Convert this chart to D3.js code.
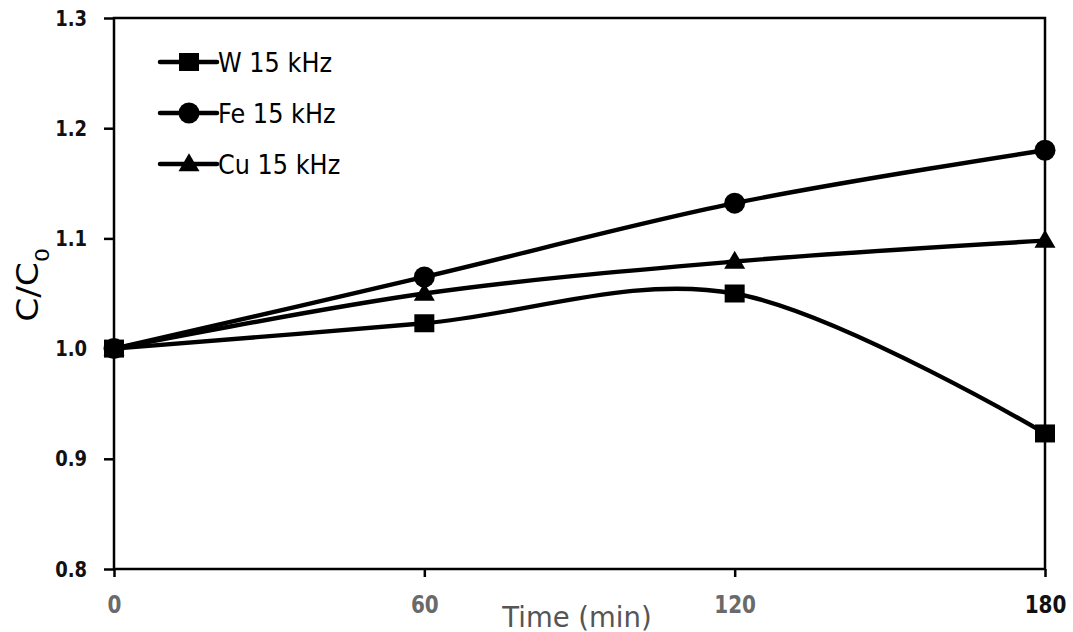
<!DOCTYPE html>
<html>
<head>
<meta charset="utf-8">
<script src="https://cdn.jsdelivr.net/npm/d3@7"></script>
<style>
  html, body { margin: 0; padding: 0; background: #fff; }
  svg { display: block; }
</style>
</head>
<body>
<svg id="chart" width="1073" height="632"></svg>
<script>
// Sampling times (min) and normalised concentration C/C0 for each metal
const times = [0, 60, 120, 180];
const wValues = [1.000, 1.023, 1.050, 0.923];
const feValues = [1.000, 1.065, 1.132, 1.180];
const cuValues = [1.000, 1.050, 1.079, 1.098];
const seriesNames = ["W 15 kHz", "Fe 15 kHz", "Cu 15 kHz"];
const yTicks = [0.8, 0.9, 1.0, 1.1, 1.2, 1.3];
const xTicks = [0, 60, 120, 180];

const series = [
  { name: seriesNames[0], values: wValues, marker: "square" },
  { name: seriesNames[1], values: feValues, marker: "circle" },
  { name: seriesNames[2], values: cuValues, marker: "triangle" }
];

const svg = d3.select("#chart");
const margin = { left: 114, top: 18, right: 28, bottom: 63 };
const W = 1073, H = 632;
const iw = W - margin.left - margin.right;
const ih = H - margin.top - margin.bottom;

const x = d3.scaleLinear().domain([0, 180]).range([0, iw]);
const y = d3.scaleLinear().domain([0.8, 1.3]).range([ih, 0]);

const g = svg.append("g").attr("transform", `translate(${margin.left},${margin.top})`);

const font = "'DejaVu Sans', Verdana, sans-serif";

// Axes (tall, narrow lettering via a vertical stretch)
const yStretch = 1.22, xStretch = 1.25;
const yAxis = g.append("g")
  .call(d3.axisLeft(y).tickValues(yTicks).tickFormat(d3.format(".1f")).tickSize(10).tickPadding(17));
const xAxis = g.append("g")
  .attr("transform", `translate(0,${ih})`)
  .call(d3.axisBottom(x).tickValues(xTicks).tickFormat(d3.format("d")).tickSize(8));

[yAxis, xAxis].forEach(a => {
  a.select(".domain").remove();
  a.selectAll(".tick line").attr("stroke", "#000").attr("stroke-width", 2.5);
  a.selectAll(".tick text")
    .attr("fill", "#111")
    .style("font-family", font)
    .style("font-weight", "bold");
});
yAxis.selectAll(".tick text")
  .style("font-size", "18px")
  .attr("transform", `scale(1,${yStretch})`);
xAxis.selectAll(".tick text")
  .style("font-size", "20px")
  .attr("dy", null)
  .attr("y", 44 / xStretch)
  .attr("transform", `scale(1,${xStretch})`)
  .attr("fill", d => d === 180 ? "#111" : "#6a6a6a");

// Plot frame
g.append("rect")
  .attr("x", 0).attr("y", 0).attr("width", iw).attr("height", ih)
  .attr("fill", "none").attr("stroke", "#000").attr("stroke-width", 2.5);

// Smoothed series lines
const line = d3.line()
  .x((d, i) => x(times[i]))
  .y(d => y(d))
  .curve(d3.curveCardinal.tension(0));

const markerSize = 20;
function drawMarker(sel, type, cx, cy) {
  if (type === "square") {
    sel.append("rect")
      .attr("x", cx - markerSize / 2).attr("y", cy - markerSize / 2 + 1)
      .attr("width", markerSize).attr("height", markerSize - 2)
      .attr("fill", "#000");
  } else if (type === "circle") {
    sel.append("circle").attr("cx", cx).attr("cy", cy).attr("r", 10.5).attr("fill", "#000");
  } else {
    const s = 21, h = 18;
    sel.append("path")
      .attr("d", `M${cx},${cy - h * 0.6}L${cx + s / 2},${cy + h * 0.4}L${cx - s / 2},${cy + h * 0.4}Z`)
      .attr("fill", "#000");
  }
}

series.forEach(s => {
  g.append("path")
    .datum(s.values)
    .attr("d", line)
    .attr("fill", "none")
    .attr("stroke", "#000")
    .attr("stroke-width", 4.4);
});
series.forEach(s => {
  const mg = g.append("g");
  s.values.forEach((v, i) => drawMarker(mg, s.marker, x(times[i]), y(v)));
});

// Legend
const legend = svg.append("g");
const legendStretch = 1.12;
series.forEach((s, i) => {
  const ly = 62 + i * 51;
  legend.append("line")
    .attr("x1", 160).attr("x2", 217).attr("y1", ly).attr("y2", ly)
    .attr("stroke", "#000").attr("stroke-width", 4.5).attr("stroke-linecap", "round");
  drawMarker(legend, s.marker, 189, ly);
  legend.append("text")
    .attr("transform", `translate(218,${ly}) scale(1,${legendStretch})`)
    .attr("dy", "0.36em")
    .style("font-family", font)
    .style("font-size", "24px")
    .attr("fill", "#000")
    .text(s.name);
});

// Axis titles
svg.append("text")
  .attr("x", 577).attr("y", 627)
  .attr("text-anchor", "middle")
  .style("font-family", font)
  .style("font-size", "27.5px")
  .attr("fill", "#555")
  .text("Time (min)");

const yTitle = svg.append("text")
  .attr("transform", "translate(38,285) rotate(-90) scale(1.15,1)")
  .attr("text-anchor", "middle")
  .style("font-family", font)
  .style("font-size", "30px")
  .attr("fill", "#000");
yTitle.append("tspan").text("C/C");
yTitle.append("tspan").attr("baseline-shift", "sub").style("font-size", "19px").text("0");
</script>
</body>
</html>
